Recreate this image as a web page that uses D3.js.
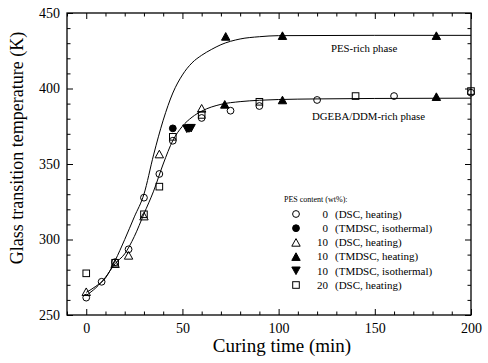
<!DOCTYPE html>
<html>
<head>
<meta charset="utf-8">
<script src="https://cdn.jsdelivr.net/npm/d3@7/dist/d3.min.js"></script>
<style>
  html, body { margin: 0; padding: 0; background: #fff; }
  svg { display: block; }
  text { font-family: "Liberation Serif", "Times New Roman", serif; fill: #000; }
</style>
</head>
<body>
<svg id="chart" width="488" height="363"></svg>
<script>
// Glass transition temperature vs curing time, by PES content and method

// 0 wt% PES, DSC heating (open circles)
const dsc0 = [[0,261.5],[8,272],[15,285],[22,293.5],[30,327.7],[38,343.4],[45,365.4],
              [60,380.5],[75,385.3],[90,388.4],[120,392.4],[160,395],[200,397.2]];
// 0 wt% PES, TMDSC isothermal (filled circles)
const tmdscIso0 = [[45,373.6]];
// 10 wt% PES, DSC heating (open triangles)
const dsc10 = [[0,265.4],[15,284],[22,289.5],[30,315.5],[38,356.6],[60,386.9]];
// 10 wt% PES, TMDSC heating (filled triangles) - both phases
const tmdscHeat10 = [[72.5,434.5],[102,435],[182,435],[72,389.5],[102,392.4],[182,394.6]];
// 10 wt% PES, TMDSC isothermal (filled inverted triangles)
const tmdscIso10 = [[52.3,373.3],[53.4,373.5],[54.5,373.7]];
// 20 wt% PES, DSC heating (open squares)
const dsc20 = [[0,277.6],[15,284.6],[30,316.7],[38,335],[45,368],[60,382.5],
               [90,391.2],[140,395],[200,398.3]];

// Fitted curves for the two phases
const curvePES = [[0,265],[5,269],[10,274.5],[15,286],[20,300],[25,315],[30,330],[35,356],
                  [40,379],[45,397],[50,409],[55,417],[60,422],[65,425.8],[70,429],
                  [80,432.8],[90,434.3],[100,435],[150,435.2],[200,435.2]];
const curveEpoxy = [[0,263],[5,268],[10,275],[15,284],[20,290.5],[25,302],[30,317],[35,332],
                    [40,350],[45,365.5],[50,375],[55,381],[60,385],[70,389.5],[80,391.3],
                    [90,392.2],[100,392.7],[120,393.1],[150,393.4],[200,393.6]];

const xMajor = [0, 50, 100, 150, 200];
const yMajor = [250, 300, 350, 400, 450];

const legendTitle = "PES content (wt%):";
const legendRows = [
  { key: "circleOpen",   num: "0",  desc: "(DSC, heating)" },
  { key: "circleFilled", num: "0",  desc: "(TMDSC, isothermal)" },
  { key: "triOpen",      num: "10", desc: "(DSC, heating)" },
  { key: "triFilled",    num: "10", desc: "(TMDSC, heating)" },
  { key: "triDown",      num: "10", desc: "(TMDSC, isothermal)" },
  { key: "squareOpen",   num: "20", desc: "(DSC, heating)" }
];

const svg = d3.select("#chart");
const L = 67, R = 471, T = 13, B = 315;

const x = d3.scaleLinear().domain([-10, 200]).range([L, R]);
const y = d3.scaleLinear().domain([250, 450]).range([B, T]);

const xMinor = d3.range(-10, 201, 10).filter(v => !xMajor.includes(v));
const yMinor = d3.range(250, 451, 10).filter(v => !yMajor.includes(v));

function styleAxis(g) {
  g.select(".domain").remove();
  g.selectAll("line").attr("stroke", "#000").attr("stroke-width", 1);
  g.selectAll("text").style("font-size", "14px").style("font-family", "Liberation Serif, serif");
}

// bottom
svg.append("g").attr("transform", `translate(0,${B})`)
  .call(d3.axisBottom(x).tickValues(xMajor).tickSize(-6).tickPadding(8).tickFormat(d3.format("d")))
  .call(styleAxis);
svg.append("g").attr("transform", `translate(0,${B})`)
  .call(d3.axisBottom(x).tickValues(xMinor).tickSize(-3.5).tickFormat(""))
  .call(styleAxis);
// top
svg.append("g").attr("transform", `translate(0,${T})`)
  .call(d3.axisTop(x).tickValues(xMajor).tickSize(-6).tickFormat(""))
  .call(styleAxis);
svg.append("g").attr("transform", `translate(0,${T})`)
  .call(d3.axisTop(x).tickValues(xMinor).tickSize(-3.5).tickFormat(""))
  .call(styleAxis);
// left
svg.append("g").attr("transform", `translate(${L},0)`)
  .call(d3.axisLeft(y).tickValues(yMajor).tickSize(-6).tickPadding(7).tickFormat(d3.format("d")))
  .call(styleAxis);
svg.append("g").attr("transform", `translate(${L},0)`)
  .call(d3.axisLeft(y).tickValues(yMinor).tickSize(-3.5).tickFormat(""))
  .call(styleAxis);
// right
svg.append("g").attr("transform", `translate(${R},0)`)
  .call(d3.axisRight(y).tickValues(yMajor).tickSize(-6).tickFormat(""))
  .call(styleAxis);
svg.append("g").attr("transform", `translate(${R},0)`)
  .call(d3.axisRight(y).tickValues(yMinor).tickSize(-3.5).tickFormat(""))
  .call(styleAxis);

// frame
svg.append("rect").attr("x", L).attr("y", T).attr("width", R - L).attr("height", B - T)
  .attr("fill", "none").attr("stroke", "#000").attr("stroke-width", 1.3);

// axis titles
svg.append("text").attr("x", 282).attr("y", 352).attr("text-anchor", "middle")
  .style("font-size", "19px").text("Curing time (min)");
svg.append("text").attr("transform", `translate(23,${(T + B) / 2 - 16}) rotate(-90)`)
  .attr("text-anchor", "middle").style("font-size", "18px")
  .text("Glass transition temperature (K)");

// curves
const line = d3.line().x(d => x(d[0])).y(d => y(d[1])).curve(d3.curveMonotoneX);
[curvePES, curveEpoxy].forEach(c => {
  svg.append("path").attr("d", line(c)).attr("fill", "none")
    .attr("stroke", "#000").attr("stroke-width", 1);
});

// phase labels
svg.append("text").attr("x", 331).attr("y", 52).style("font-size", "10.8px").text("PES-rich phase");
svg.append("text").attr("x", 312).attr("y", 120).style("font-size", "10.8px").text("DGEBA/DDM-rich phase");

// marker shapes
function drawMarker(g, key, cx, cy) {
  const open = key.endsWith("Open");
  const common = s => s.attr("fill", open ? "none" : "#000").attr("stroke", "#000").attr("stroke-width", 1);
  if (key.startsWith("circle")) {
    common(g.append("circle").attr("cx", cx).attr("cy", cy).attr("r", 3.4));
  } else if (key.startsWith("square")) {
    common(g.append("rect").attr("x", cx - 3.3).attr("y", cy - 3.3).attr("width", 6.6).attr("height", 6.6));
  } else if (key === "triDown") {
    const h = 3.8;
    common(g.append("path").attr("d", `M${cx - 4.2},${cy - h}L${cx + 4.2},${cy - h}L${cx},${cy + h}Z`));
  } else {
    const h = 3.8;
    common(g.append("path").attr("d", `M${cx - 4.2},${cy + h}L${cx + 4.2},${cy + h}L${cx},${cy - h}Z`));
  }
}

const seriesList = [
  ["squareOpen", dsc20],
  ["triOpen", dsc10],
  ["circleOpen", dsc0],
  ["circleFilled", tmdscIso0],
  ["triDown", tmdscIso10],
  ["triFilled", tmdscHeat10]
];
const marks = svg.append("g");
seriesList.forEach(([key, data]) => {
  data.forEach(d => drawMarker(marks, key, x(d[0]), y(d[1])));
});

// legend
const lg = svg.append("g");
lg.append("text").attr("x", 284).attr("y", 202).style("font-size", "8px").text(legendTitle);
legendRows.forEach((r, i) => {
  const cy = 214 + i * 14.2;
  drawMarker(lg, r.key, 296, cy);
  lg.append("text").attr("x", 328).attr("y", cy + 3.7).attr("text-anchor", "end")
    .style("font-size", "11px").text(r.num);
  lg.append("text").attr("x", 335).attr("y", cy + 3.7)
    .style("font-size", "11px").text(r.desc);
});
</script>
</body>
</html>
